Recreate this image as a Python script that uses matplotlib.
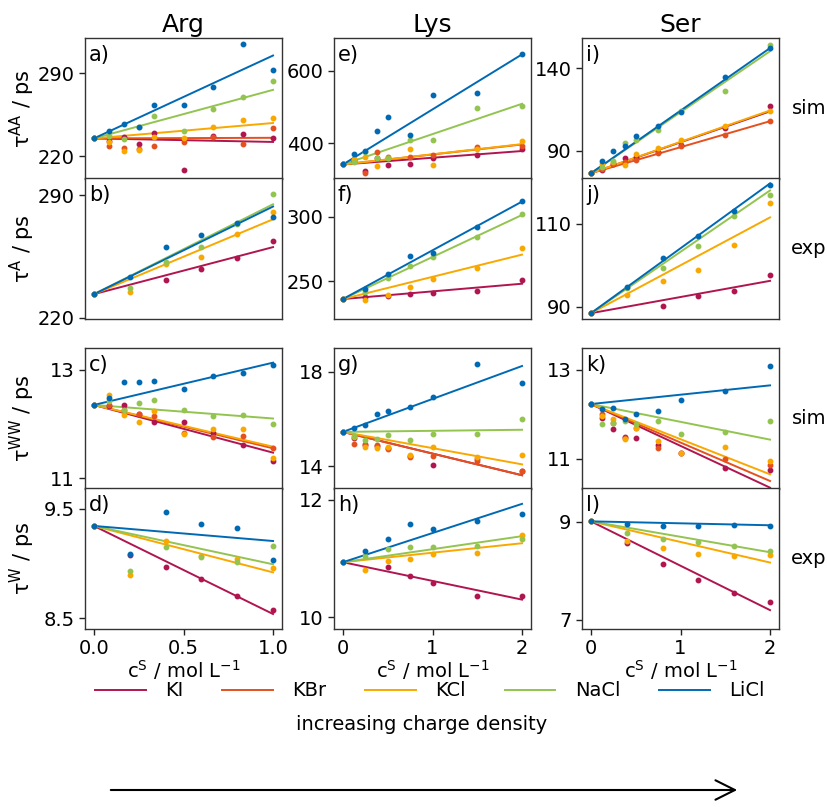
import numpy as np
import matplotlib
matplotlib.use("Agg")
import matplotlib.pyplot as plt

nan = np.nan
SALTS = ["KI", "KBr", "KCl", "NaCl", "LiCl"]
COLORS = {"KI": "#B0154F", "KBr": "#E4501E", "KCl": "#F9A800",
          "NaCl": "#93C44F", "LiCl": "#0069B4"}
COLS = ["Arg", "Lys", "Ser"]

# concentrations
ARG_SIM_X = [0, 1/12, 1/6, 1/4, 1/3, 1/2, 2/3, 5/6, 1.0]
ARG_EXP_X = [0, 0.2, 0.4, 0.6, 0.8, 1.0]
LYS_SIM_X = [0, 0.125, 0.25, 0.375, 0.5, 0.75, 1.0, 1.5, 2.0]
LYS_EXP_X = [0, 0.25, 0.5, 0.75, 1.0, 1.5, 2.0]
SER_SIM_X = [0, 0.125, 0.25, 0.375, 0.5, 0.75, 1.0, 1.5, 2.0]
SER_EXP_X = [0, 0.4, 0.8, 1.2, 1.6, 2.0]

# a) Arg tau^AA sim
ARG_AA = {
    "KI":   [235, 233, 236.4, 229.9, 239.2, 208.6, 237, 238.7, 235.6],
    "KBr":  [235, 228.8, 227.1, 226, 228.8, 231.9, 236.4, 230.5, 243.8],
    "KCl":  [235, 232.2, 224.3, 225.4, 236.4, 235, 244.7, 250.6, 252.6],
    "NaCl": [235, 237.3, 234.2, 245, 253.7, 241.5, 260, 269.6, 283.8],
    "LiCl": [235, 241.2, 246.9, 244.7, 263.4, 263.1, 278.4, 314.7, 292.8],
}
ARG_AA_FIT = {"KI": 232, "KBr": 235.5, "KCl": 248, "NaCl": 276, "LiCl": 305}

# b) Arg tau^A exp
ARG_A = {
    "KI":   [233.4, nan, 241.5, 247.8, 253.8, 263.7],
    "KCl":  [233.4, 234.6, 250.7, 254.9, 267.6, 280.2],
    "NaCl": [233.4, 236.9, 251.8, 260.3, 273.6, 290.6],
    "LiCl": [233.4, 243, 260.5, 267.2, 274.1, 277.7],
}
ARG_A_FIT = {"KI": 260.3, "KCl": 276.2, "NaCl": 284.8, "LiCl": 283.5}

# c) Arg tau^WW sim
ARG_WW = {
    "KI":   [12.35, 12.33, 12.34, 12.19, 12.04, 12.03, 11.83, 11.62, 11.32],
    "KBr":  [12.35, 12.35, 12.25, 12.19, 12.14, 11.84, 11.76, 11.78, 11.55],
    "KCl":  [12.35, 12.53, 12.16, 12.04, 12.23, 11.81, 11.91, 11.90, 11.38],
    "NaCl": [12.35, 12.43, 12.26, 12.39, 12.44, 12.26, 12.14, 12.17, 11.99],
    "LiCl": [12.35, 12.47, 12.77, 12.78, 12.79, 12.65, 12.88, 12.93, 13.09],
}
ARG_WW_FIT = {"KI": 11.47, "KBr": 11.55, "KCl": 11.58, "NaCl": 12.10, "LiCl": 13.13}

# d) Arg tau^W exp
ARG_W = {
    "KI":   [9.343, 9.075, 8.967, 8.86, 8.706, 8.57],
    "KCl":  [9.343, 8.893, 9.205, 9.07, 9.038, 8.955],
    "NaCl": [9.343, 8.93, 9.152, 9.063, 9.017, 9.155],
    "LiCl": [9.343, 9.09, 9.475, 9.365, 9.328, 9.035],
}
ARG_W_FIT = {"KI": 8.537, "KCl": 8.918, "NaCl": 8.992, "LiCl": 9.205}

# e) Lys tau^AA sim
LYS_AA = {
    "KI":   [342, 352, 325, 361, 341, 343, 361, 367, 385],
    "KBr":  [342, 356, 319, 377, 362, 363, 369, 391, 394],
    "KCl":  [342, 356, 362, 338.4, 360, 383.4, 340, 385, 406.6],
    "NaCl": [342, 350, 375, 359, 359, 410, 410, 498, 503],
    "LiCl": [342, 369.6, 378, 435, 473, 424, 532.6, 538, 645],
}
LYS_AA_FIT = {"KI": 379, "KBr": 397, "KCl": 398, "NaCl": 509, "LiCl": 645}

# f) Lys tau^A exp
LYS_A = {
    "KI":   [236, 237.5, 238.3, 239.8, 240.6, 242.4, 250.8],
    "KCl":  [236, 234.9, 239.5, 245, 251.8, 260.4, 275.5],
    "NaCl": [236, 241.4, 252.5, 262, 268.4, 284.1, 302.3],
    "LiCl": [236, 243.7, 255.7, 269.8, 271.9, 291.9, 312.5],
}
LYS_A_FIT = {"KI": 247.9, "KCl": 270.5, "NaCl": 301.3, "LiCl": 311.7}

# g) Lys tau^WW sim
LYS_WW = {
    "KI":   [15.46, 15.2, 14.9, 14.85, 14.8, 14.45, 14.07, 14.3, 13.83],
    "KBr":  [15.46, 14.95, 14.95, 14.9, 14.72, 14.41, 14.43, 14.23, 13.83],
    "KCl":  [15.46, 15.26, 14.81, 14.78, 14.82, 14.5, 14.82, 14.41, 14.48],
    "NaCl": [15.46, 15.29, 15.12, 15.14, 15.31, 15.1, 15.38, 15.38, 16.0],
    "LiCl": [15.46, 15.63, 15.76, 16.2, 16.34, 16.51, 16.92, 18.33, 17.53],
}
LYS_WW_FIT = {"KI": 13.63, "KBr": 13.63, "KCl": 14.09, "NaCl": 15.55, "LiCl": 18.24}

# h) Lys tau^W exp
LYS_W = {
    "KI":   [10.937, nan, 10.85, 10.7, 10.58, 10.365, 10.365],
    "KCl":  [10.937, 10.81, 10.95, 11.0, 11.07, 11.09, 11.4],
    "NaCl": [10.937, 11.04, 11.17, 11.19, 11.2, 11.22, 11.34],
    "LiCl": [10.937, 11.13, 11.34, 11.58, 11.51, 11.64, 11.76],
}
LYS_W_FIT = {"KI": 10.30, "KCl": 11.26, "NaCl": 11.38, "LiCl": 11.93}

# i) Ser tau^AA sim
SER_AA = {
    "KI":   [76.4, 78.2, 82, 85.5, 86.5, 89, 93.7, 104, 117],
    "KBr":  [76.4, 79, 81.9, 83, 84.5, 88.4, 93.1, 99.4, 108],
    "KCl":  [76.4, 81.9, 83, 81.2, 88, 91.6, 96.5, 105.3, 114],
    "NaCl": [76.4, 80.2, 84, 94.5, 96.5, 102.7, 114.1, 126.1, 154.3],
    "LiCl": [76.4, 83.7, 90.2, 93.1, 99.2, 105.3, 113.4, 134.7, 152.4],
}
SER_AA_FIT = {"KI": 114, "KBr": 108, "KCl": 114.5, "NaCl": 150.5, "LiCl": 152.4}

# j) Ser tau^A exp
SER_A = {
    "KI":   [88.4, nan, 90.2, 92.6, 93.8, 97.5],
    "KCl":  [88.4, 92.9, 96.2, 98.9, 104.8, 114.9],
    "NaCl": [88.4, 94.4, 99.2, 104.6, 111.8, 117],
    "LiCl": [88.4, 94.6, 101.7, 106.9, 113.1, 119.3],
}
SER_A_FIT = {"KI": 96.2, "KCl": 111.5, "NaCl": 118, "LiCl": 119.7}

# k) Ser tau^WW sim
SER_WW = {
    "KI":   [12.23, 11.91, 11.67, 11.5, 11.47, 11.3, 11.13, 10.8, 10.75],
    "KBr":  [12.23, 12.0, 11.8, 11.47, 11.7, 11.24, 11.13, 10.99, 10.85],
    "KCl":  [12.23, 11.97, 11.9, 11.45, 11.7, 11.39, 11.12, 11.27, 10.95],
    "NaCl": [12.23, 11.79, 11.81, 11.85, 11.78, 11.84, 11.55, 11.61, 11.86],
    "LiCl": [12.23, 12.11, 12.13, 11.9, 12.01, 12.08, 12.31, 12.53, 13.08],
}
SER_WW_FIT = {"KI": 10.35, "KBr": 10.5, "KCl": 10.65, "NaCl": 11.43, "LiCl": 12.65}

# l) Ser tau^W exp
SER_W = {
    "KI":   [9.01, 8.56, 8.14, 7.81, 7.55, 7.37],
    "KCl":  [9.01, 8.6, 8.47, 8.34, 8.3, 8.32],
    "NaCl": [9.01, 8.77, 8.66, 8.58, 8.5, 8.40],
    "LiCl": [9.01, 8.95, 8.91, 8.91, 8.93, 8.91],
}
SER_W_FIT = {"KI": 7.2, "KCl": 8.17, "NaCl": 8.38, "LiCl": 8.93}

PANELS = [
    [(ARG_SIM_X, ARG_AA, ARG_AA_FIT, "a)", (200.7, 319.8), [220, 290]),
     (LYS_SIM_X, LYS_AA, LYS_AA_FIT, "e)", (302, 690), [400, 600]),
     (SER_SIM_X, SER_AA, SER_AA_FIT, "i)", (72.9, 158.5), [90, 140])],
    [(ARG_EXP_X, ARG_A, ARG_A_FIT, "b)", (219.2, 299.8), [220, 290]),
     (LYS_EXP_X, LYS_A, LYS_A_FIT, "f)", (220.5, 330), [250, 300]),
     (SER_EXP_X, SER_A, SER_A_FIT, "j)", (87, 121), [90, 110])],
    [(ARG_SIM_X, ARG_WW, ARG_WW_FIT, "c)", (10.8, 13.4), [11, 13]),
     (LYS_SIM_X, LYS_WW, LYS_WW_FIT, "g)", (13.05, 19.0), [14, 18]),
     (SER_SIM_X, SER_WW, SER_WW_FIT, "k)", (10.32, 13.49), [11, 13])],
    [(ARG_EXP_X, ARG_W, ARG_W_FIT, "d)", (8.40, 9.69), [8.5, 9.5]),
     (LYS_EXP_X, LYS_W, LYS_W_FIT, "h)", (9.8, 12.2), [10, 12]),
     (SER_EXP_X, SER_W, SER_W_FIT, "l)", (6.815, 9.69), [7, 9])],
]
ROW_YLABELS = [r"τ$^{\rm AA}$ / ps", r"τ$^{\rm A}$ / ps", r"τ$^{\rm WW}$ / ps", r"τ$^{\rm W}$ / ps"]
ROW_SIDE = ["sim", "exp", "sim", "exp"]

W, H = 827, 807
fig = plt.figure(figsize=(W / 100, H / 100), dpi=100)

col_left = [85, 334, 582]
col_w = 197
row_top = [38, 178, 348, 488]
row_h = 141

for r in range(4):
    for c in range(3):
        x, data, fit, letter, ylim, yticks = PANELS[r][c]
        ax = fig.add_axes([col_left[c] / W, 1 - (row_top[r] + row_h) / H, col_w / W, row_h / H])
        xmax = x[-1]
        for s in SALTS:
            if s not in data:
                continue
            col = COLORS[s]
            ax.plot([x[0], xmax], [data[s][0], fit[s]], color=col, lw=1.4, zorder=2)
            ax.plot(x, data[s], 'o', color=col, ms=3.2, zorder=3)
        if c == 0:
            ax.set_xlim(-0.05, 1.05)
            ax.set_xticks([0, 0.5, 1.0])
        else:
            ax.set_xlim(-0.1, 2.1)
            ax.set_xticks([0, 1, 2])
        ax.set_ylim(*ylim)
        ax.set_yticks(yticks)
        ax.tick_params(labelsize=14, length=4, width=1, colors="#222222", labelcolor="black")
        if r < 3:
            ax.tick_params(axis="x", bottom=False, labelbottom=False)
        else:
            ax.set_xlabel(r"c$^{\rm S}$ / mol L$^{-1}$", fontsize=14, labelpad=0)
        for sp in ax.spines.values():
            sp.set_color("#333333")
            sp.set_linewidth(1.0)
        ax.text(0.02, 0.95, letter, transform=ax.transAxes, fontsize=15, va="top", ha="left")
        if r == 0:
            ax.set_title(COLS[c], fontsize=18, pad=4)

for r in range(4):
    yc = 1 - (row_top[r] + row_h / 2) / H
    fig.text(0.027, yc, ROW_YLABELS[r], rotation=90, fontsize=15, ha="center", va="center")
    fig.text(0.978, yc, ROW_SIDE[r], fontsize=14, ha="center", va="center")

handles = [plt.Line2D([], [], color=COLORS[s], lw=1.4) for s in SALTS]
fig.legend(handles, SALTS, loc="center", bbox_to_anchor=(0.52, 1 - 691 / H), ncol=5,
           frameon=False, fontsize=14, handlelength=2.6, columnspacing=2.0, handletextpad=1.0,
           borderpad=0.2)
fig.text(0.51, 1 - 724 / H, "increasing charge density", fontsize=14, ha="center", va="center")
fig.patches.append(matplotlib.patches.FancyArrowPatch(
    (108 / W, 1 - 790 / H), (740 / W, 1 - 790 / H), transform=fig.transFigure,
    arrowstyle="->", mutation_scale=35, lw=1.5, color="black"))

fig.savefig("out.png", dpi=100)
